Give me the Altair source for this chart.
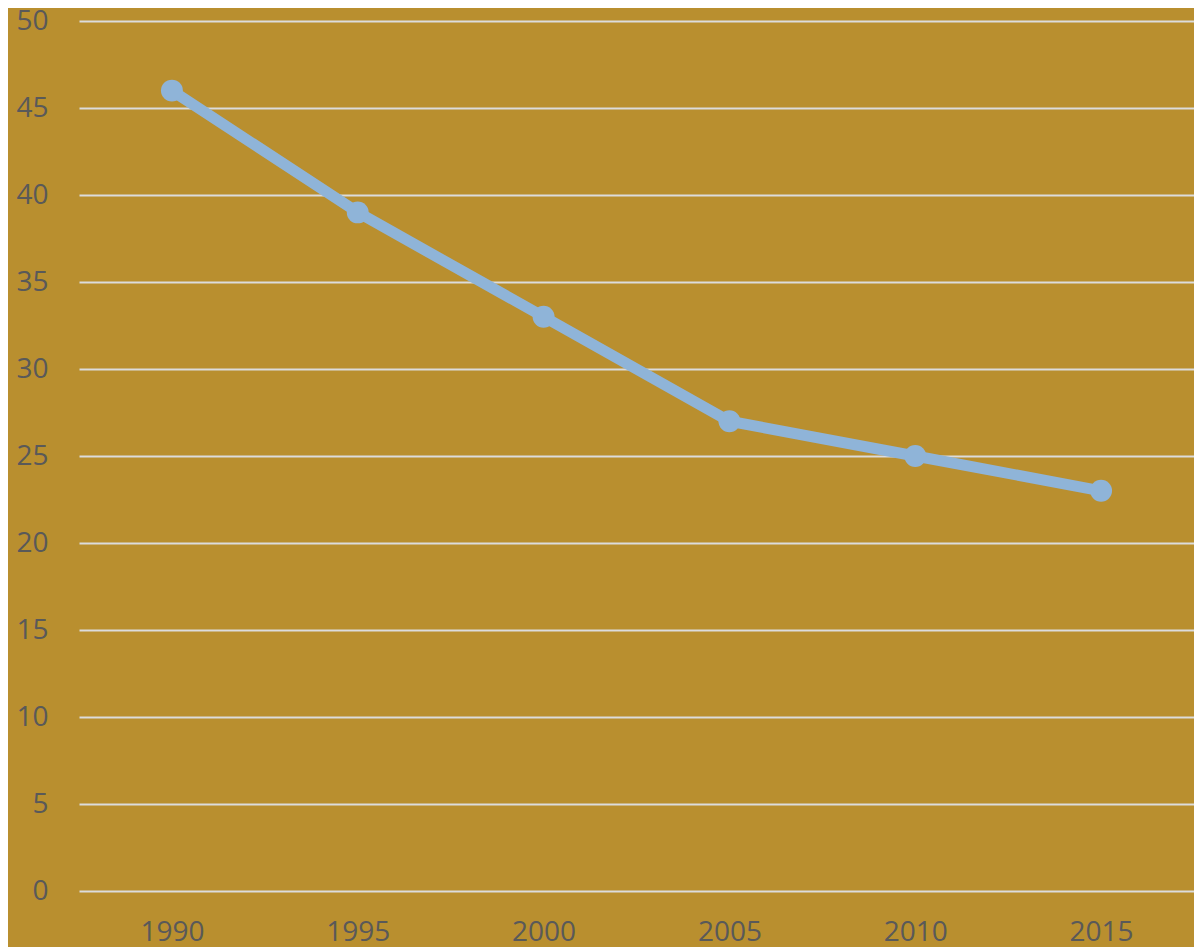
import altair as alt
import pandas as pd

years = ["1990", "1995", "2000", "2005", "2010", "2015"]
values = [46, 39, 33, 27, 25, 23]

df = pd.DataFrame({"year": years, "value": values})

BG = "#B98F2F"
LINE = "#8FB4D8"
TXT = "#595959"
FONT = "Open Sans"

base = alt.Chart(df).encode(
    x=alt.X("year:O", sort=years, title=None,
            scale=alt.Scale(type="point", padding=0.5),
            axis=alt.Axis(labelAngle=0, ticks=False, domain=False, grid=False,
                          labelFontSize=28, labelColor=TXT, labelFont=FONT,
                          labelPadding=27)),
    y=alt.Y("value:Q", title=None,
            scale=alt.Scale(domain=[0, 50], nice=False),
            axis=alt.Axis(values=list(range(0, 51, 5)), ticks=False, domain=False,
                          grid=True, gridColor="#DCDCDC", gridWidth=2,
                          labelFontSize=28, labelColor=TXT, labelFont=FONT,
                          labelPadding=31)),
)

line = base.mark_line(color=LINE, strokeWidth=11)
pts = base.mark_circle(color=LINE, opacity=1, size=480)

chart = (line + pts).properties(
    width=1115, height=870,
    background=BG,
    padding={"left": 71, "top": 13, "right": 0, "bottom": 56},
    autosize=alt.AutoSizeParams(type="none"),
).configure_view(stroke=None, fill=BG)

chart.save("out.html", embed_options={"renderer": "svg", "actions": False})
